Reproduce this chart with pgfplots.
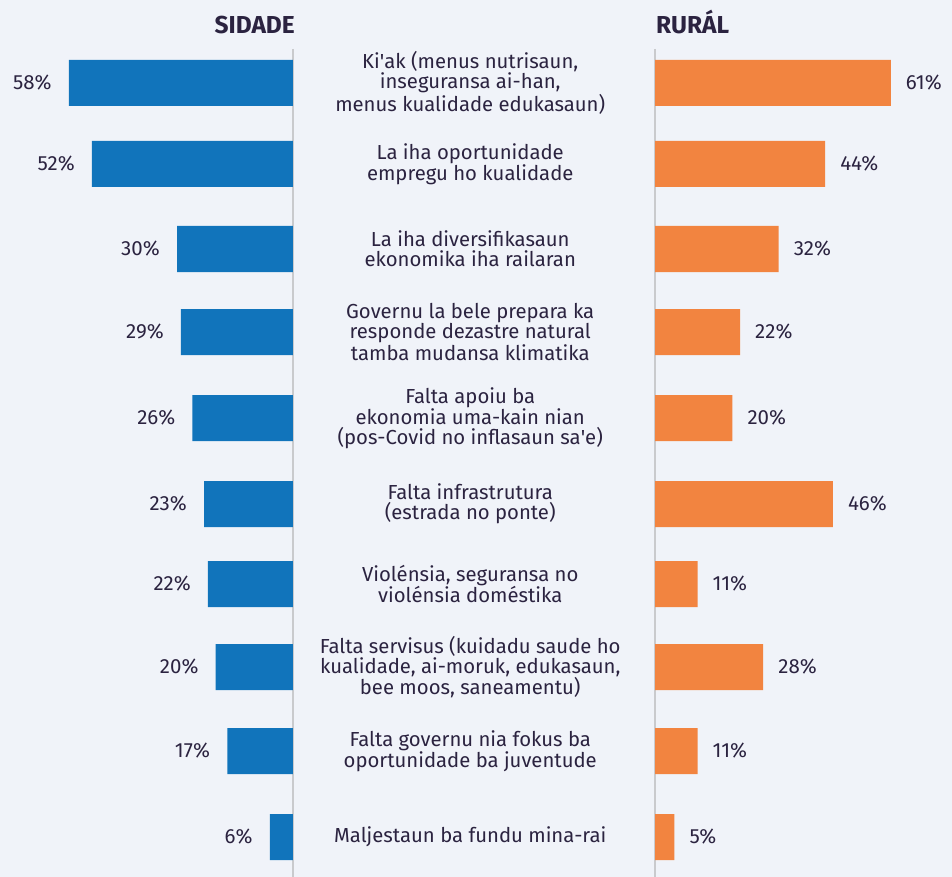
\documentclass[border=0pt]{standalone}
\usepackage{pgfplots}
\pgfplotsset{compat=1.18}
\usepackage{fontspec}
\setmainfont{Fira Sans}
\definecolor{bg}{HTML}{F0F3F9}
\definecolor{blu}{HTML}{1174BB}
\definecolor{org}{HTML}{F28440}
\definecolor{txt}{HTML}{2B2340}
\definecolor{vline}{HTML}{C9CACD}
\begin{document}
\begin{tikzpicture}[x=1pt,y=1pt]
\fill[bg] (0,0) rectangle (952,877);
\useasboundingbox (0,0) rectangle (952,877);
\pgfplotsset{base/.style={
  scale only axis, height=877pt,
  ymin=0, ymax=877, y dir=reverse,
  xmin=0, xbar, bar width=46pt, bar shift=0pt,
  axis line style={draw=none}, tick style={draw=none},
  xtick=\empty, ytick={83,164,249,332,418,504,584,667,751,837},
  /pgf/number format/assume math mode=true,
  nodes near coords={\pgfmathprintnumber{\pgfplotspointmeta}\%},
  point meta=x,
  clip=false,
}}
\begin{axis}[base, at={(0pt,0pt)}, anchor=south west, width=293pt, xmax=75.8, x dir=reverse,
  yticklabels={},
  every node near coord/.append style={anchor=east, inner sep=0pt, xshift=-17pt, text=txt, font=\fontsize{20.5}{20}\selectfont}]
\draw[vline, line width=1.6pt] (axis cs:0,49) -- (axis cs:0,877);
\addplot[fill=blu, draw=none] coordinates {(58,83) (52,164) (30,249) (29,332) (26,418) (23,504) (22,584) (20,667) (17,751) (6,837)};
\end{axis}
\begin{axis}[base, at={(655pt,0pt)}, anchor=south west, width=297pt, xmax=76.84,
  yticklabel style={align=center, anchor=center, xshift=-180.5pt, text=txt, font=\fontsize{20.3}{20}\selectfont},
  yticklabels={{Ki\textquotesingle ak (menus nutrisaun,\\inseguransa ai-han,\\menus kualidade edukasaun)},
    {La iha oportunidade\\empregu ho kualidade},
    {La iha diversifikasaun\\ekonomika iha railaran},
    {Governu la bele prepara ka\\responde dezastre natural\\tamba mudansa klimatika},
    {Falta apoiu ba\\ekonomia uma-kain nian\\(pos-Covid no inflasaun sa\textquotesingle e)},
    {Falta infrastrutura\\(estrada no ponte)},
    {Violénsia, seguransa no\\violénsia doméstika},
    {Falta servisus (kuidadu saude ho\\kualidade, ai-moruk, edukasaun,\\bee moos, saneamentu)},
    {Falta governu nia fokus ba\\oportunidade ba juventude},
    {Maljestaun ba fundu mina-rai}},
  every node near coord/.append style={anchor=west, inner sep=0pt, xshift=15pt, text=txt, font=\fontsize{20.5}{20}\selectfont}]
\draw[vline, line width=1.6pt] (axis cs:0,49) -- (axis cs:0,877);
\addplot[fill=org, draw=none] coordinates {(61,83) (44,164) (32,249) (22,332) (20,418) (46,504) (11,584) (28,667) (11,751) (5,837)};
\end{axis}
\node[anchor=base east, inner sep=0pt, text=txt, font=\fontsize{24.5}{26}\selectfont\bfseries] at (295,843) {SIDADE};
\node[anchor=base west, inner sep=0pt, text=txt, font=\fontsize{24.5}{26}\selectfont\bfseries] at (656,843) {RURÁL};
\end{tikzpicture}
\end{document}
